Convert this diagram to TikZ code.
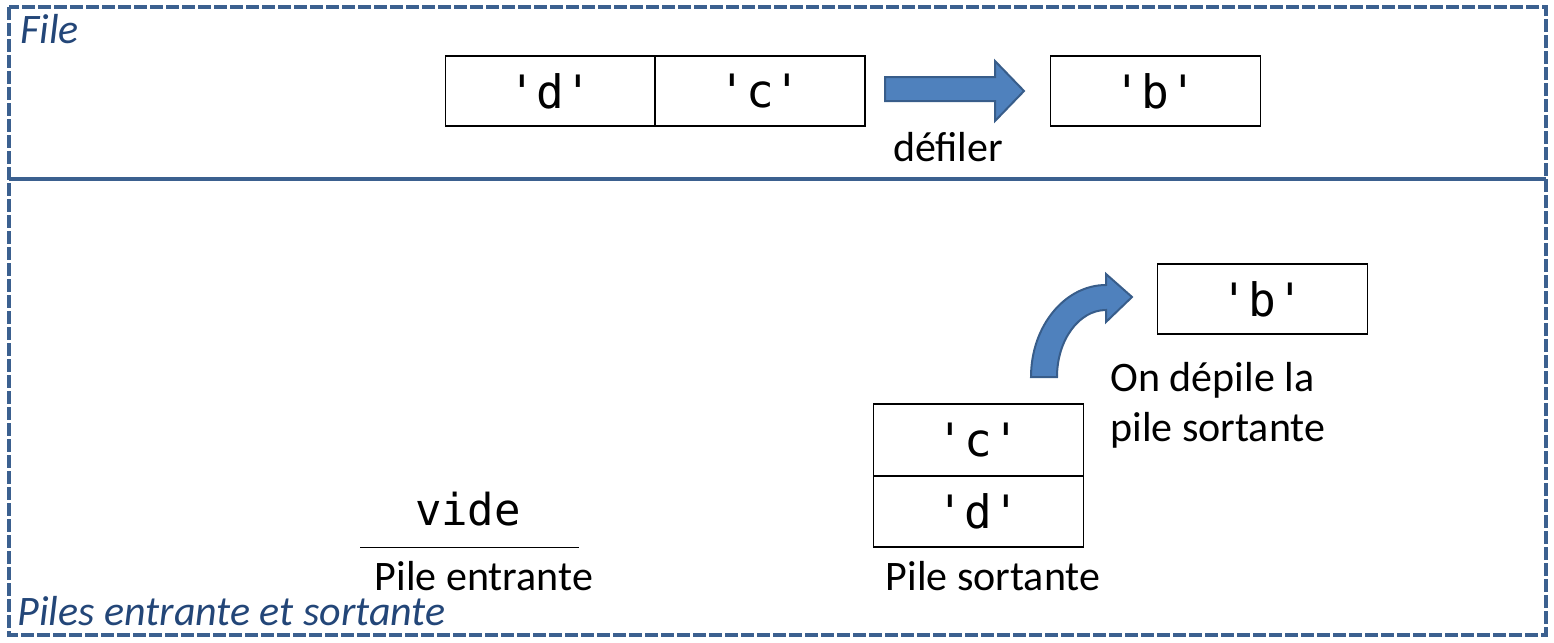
\documentclass[tikz,border=0pt]{standalone}
\usepackage{fontspec}
\setmainfont{Carlito}
\newfontfamily\codefont{DejaVu Sans Mono}
\usepackage{tikz}
\usetikzlibrary{positioning}
\definecolor{framecol}{RGB}{59,96,143}
\definecolor{titlecol}{RGB}{35,70,120}
\definecolor{arrowfill}{RGB}{79,129,189}
\definecolor{arrowdraw}{RGB}{56,93,138}

\begin{document}
\begin{tikzpicture}[x=0.5pt, y=-0.5pt,
  every node/.style={font=\fontsize{21}{25}\selectfont},
  cellbox/.style={draw, line width=0.8pt, minimum width=105pt, minimum height=35pt, inner sep=0pt,
    font=\codefont\fontsize{23}{25}\selectfont},
  title/.style={font=\itshape\fontsize{21}{25}\selectfont, text=titlecol, inner sep=0pt},
  blockarrow/.style={fill=arrowfill, draw=arrowdraw, line width=1pt, line join=miter}]
  \useasboundingbox (0,0) rectangle (1554,643);

  % frames
  \draw[framecol, line width=1.6pt, dash pattern=on 6.5pt off 1.5pt] (9,7) rectangle (1546,635);
  \draw[framecol, line width=1.6pt] (9,179) -- (1546,179);
  \node[title, anchor=base west] (tfile) at (20,43) {File};
  \node[title, anchor=base west] (tpiles) at (17,625) {Piles entrante et sortante};

  % the queue
  \node[cellbox] (fd) at (550.5,91) {'d'};
  \node[cellbox] (fc) at (760,91) {'c'};
  \node[cellbox] (fb) at (1155.5,91) {'b'};
  \draw[blockarrow] (885,77) -- (995,77) -- (995,61) -- (1024,91) -- (995,121) -- (995,101)
    -- (885,101) -- cycle;
  \node[anchor=base] (defiler) at (948,161) {défiler};

  % the two stacks
  \node[font=\codefont\fontsize{22}{25}\selectfont, anchor=base] (vide) at (468,525) {vide};
  \draw[line width=0.5pt] (360,547) -- (579,547);
  \node[anchor=base] (pin) at (484,590) {Pile entrante};

  \node[cellbox, minimum height=36pt] (sc) at (978.5,440) {'c'};
  \node[cellbox, minimum height=35.5pt] (sd) at (978.5,511.5) {'d'};
  \node[anchor=base] (pout) at (993,590) {Pile sortante};

  \draw[blockarrow] (1031,377) .. controls (1031,326) and (1065,285) .. (1106,285)
    -- (1106,274) -- (1132,297) -- (1106,322) -- (1106,310)
    .. controls (1079,310) and (1057,340) .. (1057,377) -- cycle;
  \node[cellbox] (pb) at (1262.5,299) {'b'};
  \node[anchor=north west, align=left, inner sep=0pt] (depile) at (1110,362) {On dépile la\\pile sortante};
\end{tikzpicture}
\end{document}
